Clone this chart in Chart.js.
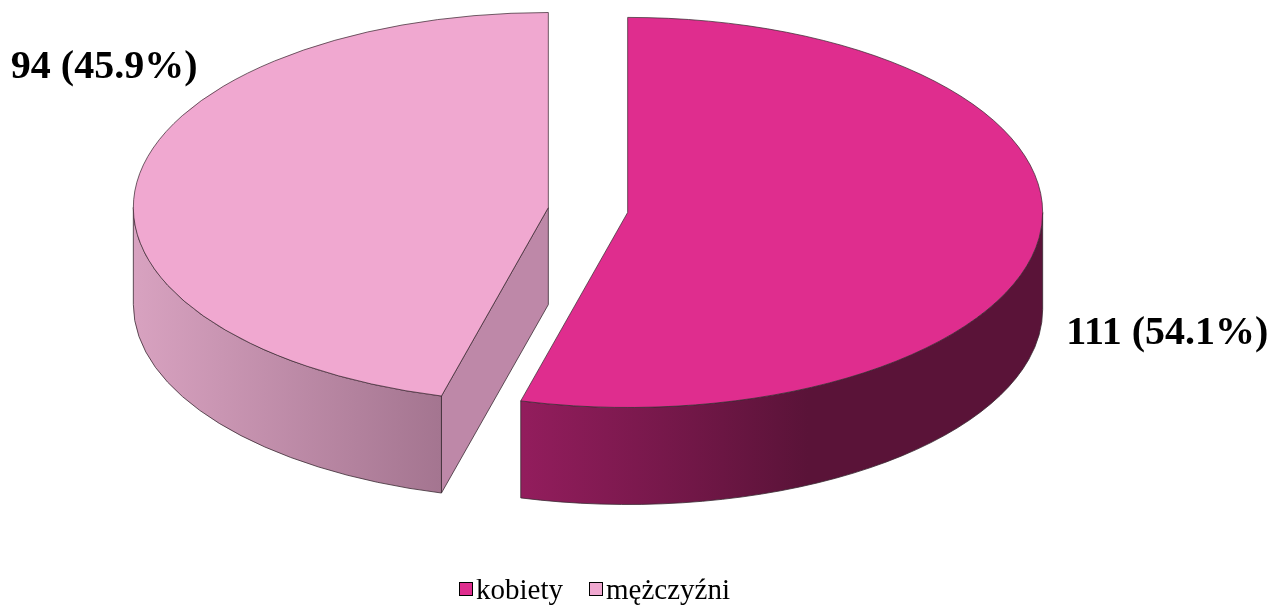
<!DOCTYPE html>
<html lang="pl">
<head>
    <meta charset="UTF-8">
    <title>kobiety / mężczyźni</title>
    <style>
        body {
            margin: 0;
            background: #fff;
        }
        .wrap {
            position: relative;
            width: 1288px;
            height: 606px;
        }
        #legend {
            position: absolute;
            left: 459px;
            top: 573px;
            font-family: "Liberation Serif", "Times New Roman", serif;
            font-size: 29px;
            line-height: 32px;
            color: #000;
            display: flex;
            align-items: center;
            white-space: nowrap;
        }
        .item {
            display: flex;
            align-items: center;
            margin-right: 26px;
        }
        .box {
            width: 12px;
            height: 12px;
            border: 1.5px solid #000;
            margin-right: 3px;
        }
    </style>
    <script src="https://cdn.jsdelivr.net/npm/chart.js"></script>
</head>
<body>
    <div class="wrap">
        <canvas id="pie" width="1288" height="606"></canvas>
        <div id="legend"></div>
    </div>

    <script>
        const labels = ['kobiety', 'mężczyźni'];
        const counts = [111, 94];
        const topColors = ['#DF2D8E', '#F0A8D0'];
        const sideColors = [['#931D5D', '#5A1338'], ['#D8A2C0', '#A47590']];
        const cutColors = ['#6E1744', '#BE88A8'];

        // look of the fake 3D
        const tilt = 0.47;      // vertical squash of the top face
        const depth = 97;       // thickness in px
        const explode = 40;     // how far each slice is pulled out
        const sideStops = [0.55, 1];
        const labelShift = [[27, 96], [-126, -115]];  // from rim point at mid angle

        const total = counts.reduce((a, b) => a + b, 0);

        // legend
        const legend = document.getElementById('legend');
        labels.forEach((name, i) => {
            const item = document.createElement('div');
            item.className = 'item';
            item.innerHTML = `<span class="box" style="background:${topColors[i]}"></span>${name}`;
            legend.appendChild(item);
        });

        function centerY(chart) {
            return (chart.chartArea.top + chart.chartArea.bottom) / 2;
        }

        // screen position of an arc's centre after squashing
        function screenCenter(chart, arc) {
            const cy = centerY(chart);
            return { x: arc.x, y: cy + (arc.y - cy) * tilt };
        }

        const pie3d = {
            id: 'pie3d',
            afterDatasetsUpdate(chart) {
                chart.getDatasetMeta(0).data.forEach(arc => {
                    const mid = (arc.startAngle + arc.endAngle) / 2;
                    arc.x += Math.cos(mid) * explode;
                    arc.y += Math.sin(mid) * explode;
                });
            },
            beforeDatasetsDraw(chart) {
                const ctx = chart.ctx;
                const arcs = chart.getDatasetMeta(0).data;
                ctx.save();
                ctx.lineWidth = 0.8;
                ctx.strokeStyle = '#3a2a32';
                arcs.forEach((arc, i) => {
                    const c = screenCenter(chart, arc);
                    const R = arc.outerRadius;
                    const a0 = arc.startAngle, a1 = arc.endAngle;

                    // cut faces facing the viewer
                    [[a0, Math.cos(a0) < -0.01], [a1, Math.cos(a1) > 0.01]].forEach(([a, show]) => {
                        if (!show) return;
                        const px = c.x + R * Math.cos(a);
                        const py = c.y + R * tilt * Math.sin(a);
                        ctx.beginPath();
                        ctx.moveTo(c.x, c.y);
                        ctx.lineTo(px, py);
                        ctx.lineTo(px, py + depth);
                        ctx.lineTo(c.x, c.y + depth);
                        ctx.closePath();
                        ctx.fillStyle = cutColors[i];
                        ctx.fill();
                        ctx.stroke();
                    });

                    // outer wall, front half only
                    const s = Math.max(a0, 0), e = Math.min(a1, Math.PI);
                    if (s < e) {
                        const xa = c.x + R * Math.cos(s), xb = c.x + R * Math.cos(e);
                        const g = ctx.createLinearGradient(Math.min(xa, xb), 0, Math.max(xa, xb), 0);
                        g.addColorStop(0, sideColors[i][0]);
                        g.addColorStop(sideStops[i], sideColors[i][1]);
                        if (sideStops[i] < 1) g.addColorStop(1, sideColors[i][1]);
                        ctx.beginPath();
                        ctx.ellipse(c.x, c.y, R, R * tilt, 0, s, e);
                        ctx.ellipse(c.x, c.y + depth, R, R * tilt, 0, e, s, true);
                        ctx.closePath();
                        ctx.fillStyle = g;
                        ctx.fill();
                        ctx.stroke();
                    }
                });
                ctx.restore();

                // squash the top faces drawn by Chart.js
                const cy = centerY(chart);
                ctx.save();
                ctx.translate(0, cy);
                ctx.scale(1, tilt);
                ctx.translate(0, -cy);
            },
            afterDatasetsDraw(chart) {
                chart.ctx.restore();
            },
            afterDraw(chart) {
                const ctx = chart.ctx;
                const arcs = chart.getDatasetMeta(0).data;
                ctx.save();
                ctx.font = 'bold 40px "Liberation Serif", "Times New Roman", serif';
                ctx.fillStyle = '#000';
                ctx.textAlign = 'left';
                ctx.textBaseline = 'middle';
                arcs.forEach((arc, i) => {
                    const c = screenCenter(chart, arc);
                    const mid = (arc.startAngle + arc.endAngle) / 2;
                    const x = c.x + arc.outerRadius * Math.cos(mid) + labelShift[i][0];
                    const y = c.y + arc.outerRadius * tilt * Math.sin(mid) + labelShift[i][1];
                    const pct = (counts[i] / total * 100).toFixed(1);
                    ctx.fillText(`${counts[i]} (${pct}%)`, x, y);
                });
                ctx.restore();
            }
        };

        new Chart(document.getElementById('pie'), {
            type: 'pie',
            data: {
                labels: labels,
                datasets: [{
                    data: counts,
                    backgroundColor: topColors,
                    borderColor: '#3c2a33',
                    borderWidth: 1,
                    radius: 415,
                    clip: false
                }]
            },
            options: {
                responsive: false,
                animation: false,
                events: [],
                layout: {
                    padding: { left: 0, right: 112, top: 0, bottom: 186 }
                },
                plugins: {
                    legend: { display: false },
                    tooltip: { enabled: false }
                }
            },
            plugins: [pie3d]
        });
    </script>
</body>
</html>
